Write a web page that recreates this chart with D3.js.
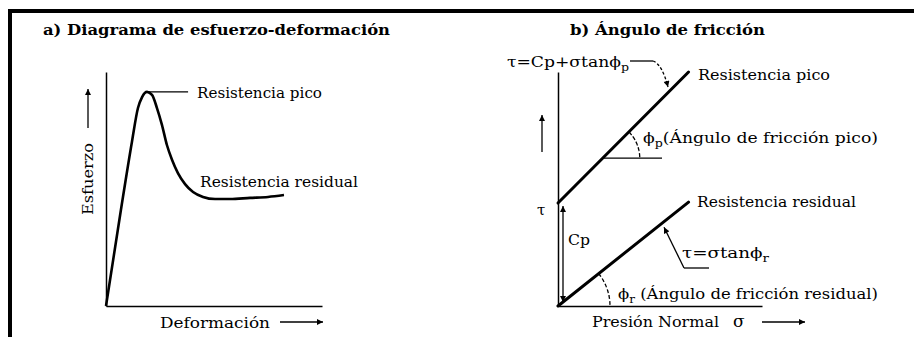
<!DOCTYPE html>
<html>
<head>
<meta charset="utf-8">
<script src="https://cdn.jsdelivr.net/npm/d3@7"></script>
<style>
  body { margin: 0; background: #fff; }
  text { font-family: "DejaVu Serif", serif; fill: #000; }
</style>
</head>
<body>
<svg id="chart" width="914" height="337"></svg>
<script>
// a) stress-strain curve, arbitrary units 0-100
var strain = [0, 6.9, 12, 14.8, 16.7, 19, 21.3, 23.6, 25.9, 28.2, 30.6, 33.3, 36.6, 40.3, 44.9, 50.5, 57.4, 66.7, 75, 82.4];
var stress = [0, 41, 70.1, 84.6, 89.3, 91.5, 90.2, 84.6, 77.4, 68.8, 62.4, 56.8, 52.1, 48.7, 46.6, 45.7, 45.7, 46.2, 46.6, 47.4];

// b) failure envelopes tau = c + sigma tan(phi)
var sigma = [0, 64];
var tauPeak = [44, 100];
var tauResidual = [0, 44.4];

var svg = d3.select('#chart');

// frame
svg.append('rect').attr('x', 8).attr('y', 9).attr('width', 906).attr('height', 4).attr('fill', '#000');
svg.append('rect').attr('x', 8).attr('y', 9).attr('width', 4).attr('height', 328).attr('fill', '#000');

// arrow marker
svg.append('defs').append('marker')
    .attr('id', 'arr')
    .attr('viewBox', '0 0 10 10')
    .attr('refX', 10).attr('refY', 5)
    .attr('markerWidth', 8).attr('markerHeight', 6)
    .attr('markerUnits', 'userSpaceOnUse')
    .attr('orient', 'auto-start-reverse')
    .append('path').attr('d', 'M0,0L10,5L0,10z').attr('fill', '#000');

function label(x, y, len, opts){
  opts = opts || {};
  var t = svg.append('text')
      .attr('x', x).attr('y', y)
      .style('font-size', (opts.size || 15) + 'px')
      .style('font-weight', opts.bold ? 'bold' : 'normal');
  if (len){ t.attr('textLength', len).attr('lengthAdjust', 'spacingAndGlyphs'); }
  return t;
}
// text with a trailing subscript
function subText(t, main, sub, after){
  t.append('tspan').text(main);
  t.append('tspan').attr('dy', 4).style('font-size', '11px').text(sub);
  if (after){ t.append('tspan').attr('dy', -4).text(after); }
  return t;
}
function line(x1, y1, x2, y2, w, arrow){
  var l = svg.append('line')
      .attr('x1', x1).attr('y1', y1).attr('x2', x2).attr('y2', y2)
      .attr('stroke', '#000').attr('stroke-width', w || 1.3);
  if (arrow){ l.attr('marker-end', 'url(#arr)'); }
  return l;
}

// ---------- a) Diagrama de esfuerzo-deformacion ----------
var xa = d3.scaleLinear().domain([0, 100]).range([106, 322]);
var ya = d3.scaleLinear().domain([0, 100]).range([306, 72]);

label(43, 35, 347, {bold: true, size: 14}).text('a) Diagrama de esfuerzo-deformación');

svg.append('g').attr('transform', 'translate(' + xa(0) + ',0)')
    .call(d3.axisLeft(ya).tickValues([]).tickSizeOuter(0))
    .select('.domain').attr('stroke-width', 1.5);
svg.append('g').attr('transform', 'translate(0,' + ya(0) + ')')
    .call(d3.axisBottom(xa).tickValues([]).tickSizeOuter(0))
    .select('.domain').attr('stroke-width', 1.5);

var curve = d3.line()
    .x(function(d, i){ return xa(strain[i]); })
    .y(function(d){ return ya(d); })
    .curve(d3.curveMonotoneX);
svg.append('path')
    .attr('d', curve(stress))
    .attr('fill', 'none').attr('stroke', '#000')
    .attr('stroke-width', 2.6).attr('stroke-linejoin', 'round');

var ip = d3.maxIndex(stress);
line(xa(strain[ip]), ya(stress[ip]), xa(38), ya(stress[ip]), 1.3);
label(197, ya(stress[ip]) + 6, 125).text('Resistencia pico');
label(200, 187, 158).text('Resistencia residual');

svg.append('text')
    .attr('transform', 'translate(93,179) rotate(-90)')
    .attr('text-anchor', 'middle')
    .attr('textLength', 72).attr('lengthAdjust', 'spacingAndGlyphs')
    .style('font-size', '15px')
    .text('Esfuerzo');
line(88, 128, 88, 89, 1.3, true);

label(160, 328, 110).text('Deformación');
line(280, 322, 323, 322, 1.3, true);

// ---------- b) Angulo de friccion ----------
var xb = d3.scaleLinear().domain([0, 100]).range([558, 762]);
var yb = d3.scaleLinear().domain([0, 100]).range([306, 72]);

label(570, 35, 195, {bold: true, size: 14}).text('b) Ángulo de fricción');

svg.append('g').attr('transform', 'translate(' + xb(0) + ',0)')
    .call(d3.axisLeft(yb).tickValues([]).tickSizeOuter(0))
    .select('.domain').attr('stroke-width', 1.5);
svg.append('g').attr('transform', 'translate(0,' + yb(0) + ')')
    .call(d3.axisBottom(xb).tickValues([]).tickSizeOuter(0))
    .select('.domain').attr('stroke-width', 1.5);

var env = d3.line()
    .x(function(d, i){ return xb(sigma[i]); })
    .y(function(d){ return yb(d); });
[tauPeak, tauResidual].forEach(function(s){
  svg.append('path').attr('d', env(s))
      .attr('fill', 'none').attr('stroke', '#000')
      .attr('stroke-width', 3).attr('stroke-linecap', 'round');
});

var slopeP = (tauPeak[1] - tauPeak[0]) / (sigma[1] - sigma[0]);
var slopeR = (tauResidual[1] - tauResidual[0]) / (sigma[1] - sigma[0]);
var angP = Math.atan2(yb(tauPeak[0]) - yb(tauPeak[1]), xb(sigma[1]) - xb(sigma[0]));
var angR = Math.atan2(yb(tauResidual[0]) - yb(tauResidual[1]), xb(sigma[1]) - xb(sigma[0]));

// peak envelope annotations
subText(label(507, 67, 122), 'τ=Cp+σtanϕ', 'p');
line(630, 61, 653, 61, 1.3);
svg.append('path')
    .attr('d', 'M653,61 Q662,64 668,87')
    .attr('fill', 'none').attr('stroke', '#000').attr('stroke-width', 1.3)
    .attr('stroke-dasharray', '3,2').attr('marker-end', 'url(#arr)');
label(698, 80, 132).text('Resistencia pico');

var tRef = 63.2, sRef = (tRef - tauPeak[0]) / slopeP;
line(xb(sRef), yb(tRef), xb(51), yb(tRef), 1.3);
var arcP = d3.arc().innerRadius(37).outerRadius(37).startAngle(Math.PI / 2 - angP).endAngle(Math.PI / 2);
svg.append('path').attr('d', arcP())
    .attr('transform', 'translate(' + xb(sRef) + ',' + yb(tRef) + ')')
    .attr('fill', 'none').attr('stroke', '#000').attr('stroke-width', 1.3).attr('stroke-dasharray', '3,3');
subText(label(643, 143, 235), 'ϕ', 'p', '(Ángulo de fricción pico)');

// residual envelope annotations
label(697, 207, 159).text('Resistencia residual');
svg.append('text').attr('x', 537).attr('y', 215).style('font-size', '15px').text('τ');
line(542, 152, 542, 115, 1.3, true);

svg.append('line')
    .attr('x1', 563).attr('y1', yb(tauPeak[0]) + 3).attr('x2', 563).attr('y2', yb(0) - 4)
    .attr('stroke', '#000').attr('stroke-width', 1.3)
    .attr('marker-start', 'url(#arr)').attr('marker-end', 'url(#arr)');
label(568, 245, 22).text('Cp');

var sr = 51;
line(684, 268, xb(sr) + 2, yb(sr * slopeR) + 4, 1.3, true);
line(684, 268, 709, 268, 1.3);
subText(label(682, 258, 87), 'τ=σtanϕ', 'r');

var arcR = d3.arc().innerRadius(52).outerRadius(52).startAngle(Math.PI / 2 - angR).endAngle(Math.PI / 2);
svg.append('path').attr('d', arcR())
    .attr('transform', 'translate(' + xb(0) + ',' + yb(0) + ')')
    .attr('fill', 'none').attr('stroke', '#000').attr('stroke-width', 1.3).attr('stroke-dasharray', '3,3');
subText(label(618, 299, 260), 'ϕ', 'r', ' (Ángulo de fricción residual)');

label(592, 327, 127).text('Presión Normal');
svg.append('text').attr('x', 733).attr('y', 327).style('font-size', '17px').text('σ');
line(762, 322, 805, 322, 1.3, true);
</script>
</body>
</html>
